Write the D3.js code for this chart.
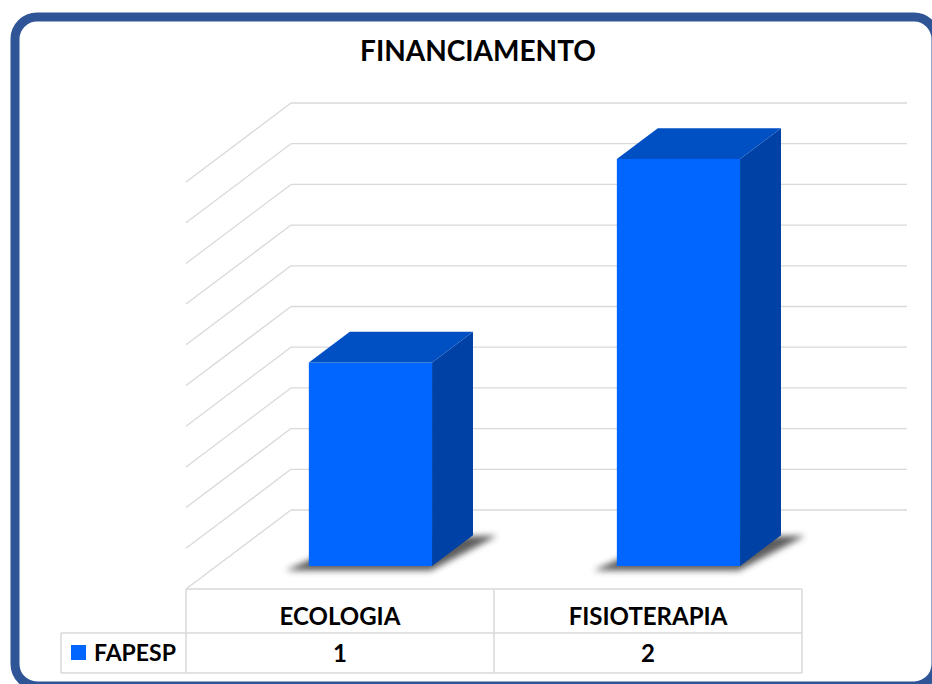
<!DOCTYPE html>
<html>
<head>
<meta charset="utf-8">
<script src="https://cdn.jsdelivr.net/npm/d3@7"></script>
<style>
  html, body { margin: 0; padding: 0; background: #fff; }
  svg { display: block; font-family: Lato, "Open Sans", sans-serif; }
</style>
</head>
<body>
<svg id="chart" width="932" height="684"></svg>
<script>
const categories = ['ECOLOGIA', 'FISIOTERAPIA'];
const seriesName = 'FAPESP';
const values     = [1, 2];
const yTicks     = d3.range(0, 2.0001, 0.2);

const W = 932, H = 684;
const svg = d3.select('#chart');

// oblique 3d frame: floor front edge, full depth offset
const floorY = 589;
const DX = 105, DY = -79;
const plotH = 407;

const x = d3.scaleBand().domain(categories).range([186, 802]).paddingInner(0).paddingOuter(0);
const y = d3.scaleLinear().domain([0, 2]).range([0, plotH]);

const pt = (px, v, z) => [px + z * DX, floorY + z * DY - y(v)];

const defs = svg.append('defs');
defs.append('filter').attr('id', 'blur')
  .attr('x', '-20%').attr('y', '-50%').attr('width', '140%').attr('height', '200%')
  .append('feGaussianBlur').attr('stdDeviation', 3);

// outer frame
svg.append('rect')
  .attr('x', 15).attr('y', 17).attr('width', 921).attr('height', 669)
  .attr('rx', 22).attr('fill', '#fff')
  .attr('stroke', '#2F5597').attr('stroke-width', 9);

svg.append('text')
  .attr('x', 478).attr('y', 61)
  .attr('text-anchor', 'middle')
  .attr('font-size', 28).attr('font-weight', 700).attr('fill', '#000')
  .text('FINANCIAMENTO');

const grid = svg.append('g').attr('stroke', '#D9D9D9').attr('stroke-width', 1.3).attr('fill', 'none');

// back wall lines
grid.selectAll('.bw').data(yTicks).join('line')
  .attr('x1', d => pt(186, d, 1)[0]).attr('y1', d => pt(186, d, 1)[1])
  .attr('x2', d => pt(802, d, 1)[0]).attr('y2', d => pt(802, d, 1)[1]);

// side wall lines
grid.selectAll('.sw').data(yTicks).join('line')
  .attr('x1', d => pt(186, d, 0)[0]).attr('y1', d => pt(186, d, 0)[1])
  .attr('x2', d => pt(186, d, 1)[0]).attr('y2', d => pt(186, d, 1)[1]);

// bars
const z0 = 0.29, z1 = 0.68;
const bw = x.bandwidth() * 0.4;

const bars = svg.selectAll('.bar').data(categories.map((c, i) => ({ c, v: values[i] }))).join('g');

bars.each(function (d) {
  const g = d3.select(this);
  const xl = x(d.c) + (x.bandwidth() - bw) / 2;
  const xr = xl + bw;
  const P = (px, v, z) => pt(px, v, z).join(',');

  // soft shadow under the base
  const sh = [
    [xl - 20, 0, z0 - 0.03], [xr + 2, 0, z0 - 0.03], [xr + 22, 0, z1 + 0.02], [xl + 10, 0, z1]
  ].map(p => { const q = pt(p[0], p[1], p[2]); return [q[0], q[1] + 2].join(','); }).join(' ');
  g.append('polygon').attr('points', sh).attr('fill', '#404040').attr('opacity', 0.85).attr('filter', 'url(#blur)');

  // front
  g.append('polygon')
    .attr('points', [P(xl, 0, z0), P(xr, 0, z0), P(xr, d.v, z0), P(xl, d.v, z0)].join(' '))
    .attr('fill', '#0066FF');
  // side
  g.append('polygon')
    .attr('points', [P(xr, 0, z0), P(xr, 0, z1), P(xr, d.v, z1), P(xr, d.v, z0)].join(' '))
    .attr('fill', '#0041A6');
  // top
  g.append('polygon')
    .attr('points', [P(xl, d.v, z0), P(xr, d.v, z0), P(xr, d.v, z1), P(xl, d.v, z1)].join(' '))
    .attr('fill', '#0050C4');
});

// data table
const tbl = svg.append('g');
const rowTop = floorY, rowMid = 633, rowBot = 673, legL = 61;
const lines = tbl.append('g').attr('stroke', '#D9D9D9').attr('stroke-width', 1.5);
lines.append('line').attr('x1', 186).attr('x2', 802).attr('y1', rowTop).attr('y2', rowTop);
lines.append('line').attr('x1', legL).attr('x2', 802).attr('y1', rowMid).attr('y2', rowMid);
lines.append('line').attr('x1', legL).attr('x2', 802).attr('y1', rowBot).attr('y2', rowBot);
lines.append('line').attr('x1', legL).attr('x2', legL).attr('y1', rowMid).attr('y2', rowBot);
lines.selectAll('.cv').data([186, 494, 802]).join('line')
  .attr('x1', d => d).attr('x2', d => d).attr('y1', rowTop).attr('y2', rowBot);

tbl.selectAll('.hdr').data(categories).join('text')
  .attr('x', d => x(d) + x.bandwidth() / 2).attr('y', 625)
  .attr('text-anchor', 'middle').attr('font-size', 24).attr('font-weight', 700)
  .text(d => d);

tbl.selectAll('.val').data(categories).join('text')
  .attr('x', d => x(d) + x.bandwidth() / 2).attr('y', 662)
  .attr('text-anchor', 'middle').attr('font-size', 24).attr('font-weight', 700)
  .text((d, i) => values[i]);

tbl.append('rect').attr('x', 71).attr('y', 645).attr('width', 15).attr('height', 15).attr('fill', '#0066FF');
tbl.append('text').attr('x', 94).attr('y', 661)
  .attr('font-size', 23).attr('font-weight', 700).text(seriesName);
</script>
</body>
</html>
